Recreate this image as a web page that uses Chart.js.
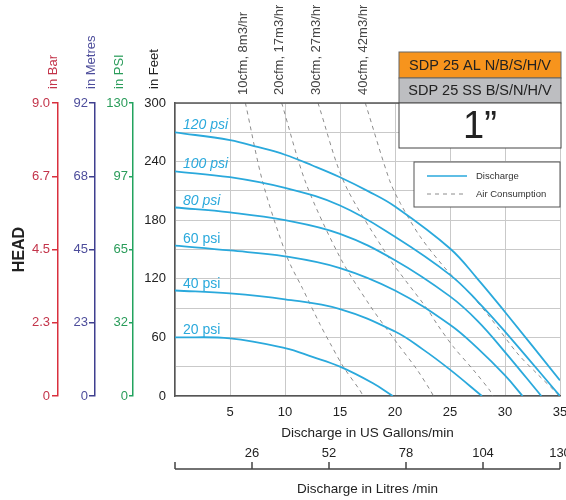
<!DOCTYPE html>
<html>
<head>
<meta charset="utf-8">
<script src="https://cdn.jsdelivr.net/npm/chart.js@4.4.0/dist/chart.umd.min.js"></script>
<style>
  html, body { margin: 0; padding: 0; background: #fff; }
</style>
</head>
<body>
<canvas id="pumpChart" width="566" height="500"></canvas>
<script>
// discharge curves, flow in US gal/min against head in feet
const pressures = ['120 psi', '100 psi', '80 psi', '60 psi', '40 psi', '20 psi'];

const flow120 = [0, 5, 7.5, 10, 12.5, 15, 17.5, 20, 25, 27.5, 30, 35];
const head120 = [270, 262, 255, 247, 236, 224, 210, 194, 151, 120, 86, 16];
const flow100 = [0, 5, 10, 15, 20, 25, 27.5, 30, 35];
const head100 = [230, 224, 213, 195, 163, 124, 97, 66, 0];
const flow80 = [0, 5, 10, 15, 20, 25, 27.5, 30, 33.3];
const head80 = [193, 188, 180, 166, 139, 102, 77, 45, 0];
const flow60 = [0, 5, 10, 15, 20, 25, 27.5, 30, 31.6];
const head60 = [154, 149, 143, 131, 108, 73, 49, 21, 0];
const flow40 = [0, 5, 10, 15, 20, 22.5, 25, 27.9];
const head40 = [108, 105, 99, 89, 66, 48, 27, 0];
const flow20 = [0, 5, 10, 12.5, 15, 18, 19.8];
const head20 = [60, 59, 49, 40, 30, 13, 0];

// air consumption lines
const airLabels = ['10cfm, 8m3/hr', '20cfm, 17m3/hr', '30cfm, 27m3/hr', '40cfm, 42m3/hr'];
const air10Flow = [6.4, 8.0, 10.2, 11.6, 13.2, 14.1, 15.3, 16.8, 17.1];
const air10Head = [300, 218, 142, 110, 73, 54, 30, 6, 0];
const air20Flow = [9.7, 11.9, 15, 17.7, 20.2, 22, 23.2, 23.5];
const air20Head = [300, 218, 142, 93, 54, 27, 6, 0];
const air30Flow = [13.0, 15.4, 19.4, 20.5, 23.0, 23.8, 25.3, 27.1, 28.6, 28.9];
const air30Head = [300, 218, 142, 125, 88, 74, 50.5, 27, 6, 0];
const air40Flow = [17.3, 19.5, 20.5, 22.3, 24.7, 26.8, 28.6, 31.1, 32.9, 34.7, 34.9];
const air40Head = [300, 221, 197, 163, 129, 105, 81, 44, 23, 3, 0];

// scale tick labels
const barTicks = ['0', '2.3', '4.5', '6.7', '9.0'];
const metreTicks = ['0', '23', '45', '68', '92'];
const psiTicks = ['0', '32', '65', '97', '130'];
const litreTicks = [26, 52, 78, 104, 130];

const flows = [flow120, flow100, flow80, flow60, flow40, flow20];
const heads = [head120, head100, head80, head60, head40, head20];
const airFlows = [air10Flow, air20Flow, air30Flow, air40Flow];
const airHeads = [air10Head, air20Head, air30Head, air40Head];

const BLUE = '#2aa9dc';
const RED = '#d9303e', REDTXT = '#c3344a';
const PURPLE = '#3f3f8f', PURPLETXT = '#4d4d9b';
const GREEN = '#22a35e', GREENTXT = '#2a9c5a';
const FONT = "'Liberation Sans', Arial, sans-serif";

Chart.defaults.font.family = FONT;
Chart.defaults.font.size = 13;
Chart.defaults.color = '#222';

const pts = (f, h) => f.map((x, i) => ({ x: x, y: h[i] }));

const datasets = [];
flows.forEach((f, i) => {
  datasets.push({
    label: pressures[i],
    data: pts(f, heads[i]),
    showLine: true,
    borderColor: BLUE,
    borderWidth: 1.8,
    pointRadius: 0,
    tension: 0.4
  });
});
airFlows.forEach((f, i) => {
  datasets.push({
    label: airLabels[i],
    data: pts(f, airHeads[i]),
    showLine: true,
    borderColor: '#8c8c8c',
    borderWidth: 1,
    borderDash: [4, 4],
    pointRadius: 0,
    tension: 0.3
  });
});

function quarterTicks(max) {
  return (s) => { s.ticks = [0, 1, 2, 3, 4].map(i => ({ value: max * i / 4 })); };
}

function sideAxis(max, labels, weight, width, line, txt, pad, tick) {
  return {
    position: 'left',
    weight: weight,
    min: 0,
    max: max,
    afterBuildTicks: quarterTicks(max),
    afterFit: (s) => { s.width = width; },
    ticks: { color: txt, padding: pad, callback: (v, i) => labels[i] },
    grid: { display: true, drawOnChartArea: false, drawTicks: true, tickLength: tick, color: line, lineWidth: 1.5 },
    border: { display: true, color: line, width: 1.5 }
  };
}

const decor = {
  id: 'decor',
  afterDraw(chart) {
    const ctx = chart.ctx;
    const ca = chart.chartArea;
    const xs = chart.scales.x, ys = chart.scales.y;
    ctx.save();

    // top edge of the plot frame
    ctx.strokeStyle = '#555';
    ctx.lineWidth = 1.5;
    ctx.beginPath();
    ctx.moveTo(ca.left, ca.top);
    ctx.lineTo(ca.right, ca.top);
    ctx.stroke();

    // pressure labels at the start of each curve
    ctx.fillStyle = BLUE;
    ctx.textAlign = 'left';
    ctx.textBaseline = 'alphabetic';
    pressures.forEach((p, i) => {
      ctx.font = (i < 3 ? 'italic ' : '') + '14px ' + FONT;
      ctx.fillText(p, xs.getPixelForValue(0) + 8, ys.getPixelForValue(heads[i][0]) - 3);
    });

    // air consumption labels above the plot
    ctx.fillStyle = '#444';
    ctx.font = '13px ' + FONT;
    ctx.textBaseline = 'middle';
    airLabels.forEach((t, i) => {
      ctx.save();
      ctx.translate(xs.getPixelForValue(airFlows[i][0]) - 2, ca.top - 8);
      ctx.rotate(-Math.PI / 2);
      ctx.fillText(t, 0, 0);
      ctx.restore();
    });

    // head axis titles
    [['yBar', 'in Bar', REDTXT, -4.5], ['yMet', 'in Metres', PURPLETXT, -4],
     ['yPsi', 'in PSI', GREENTXT, -14], ['y', 'in Feet', '#222', -21]].forEach(a => {
      const s = chart.scales[a[0]];
      ctx.save();
      ctx.fillStyle = a[2];
      ctx.translate(s.right + a[3], ca.top - 14);
      ctx.rotate(-Math.PI / 2);
      ctx.fillText(a[1], 0, 0);
      ctx.restore();
    });

    // model boxes
    const bx = ca.right - 161, bw = 162;
    ctx.lineWidth = 1;
    ctx.strokeStyle = '#666';
    ctx.fillStyle = '#f7941d';
    ctx.fillRect(bx, ca.top - 51, bw, 26);
    ctx.strokeRect(bx, ca.top - 51, bw, 26);
    ctx.fillStyle = '#bdbec1';
    ctx.fillRect(bx, ca.top - 25, bw, 25);
    ctx.strokeRect(bx, ca.top - 25, bw, 25);
    ctx.fillStyle = '#fff';
    ctx.fillRect(bx, ca.top, bw, 45);
    ctx.strokeStyle = '#444';
    ctx.strokeRect(bx, ca.top, bw, 45);
    ctx.fillStyle = '#222';
    ctx.textAlign = 'center';
    ctx.font = '14.5px ' + FONT;
    ctx.fillText('SDP 25 AL N/B/S/H/V', bx + bw / 2, ca.top - 37);
    ctx.fillText('SDP 25 SS B/S/N/H/V', bx + bw / 2, ca.top - 12);
    ctx.font = '38px ' + FONT;
    ctx.fillText('1\u201D', bx + bw / 2, ca.top + 25);

    // legend
    const lx = ca.right - 146, ly = ca.top + 59;
    ctx.fillStyle = '#fff';
    ctx.fillRect(lx, ly, 146, 45);
    ctx.strokeStyle = '#555';
    ctx.strokeRect(lx, ly, 146, 45);
    ctx.lineWidth = 1.5;
    ctx.strokeStyle = BLUE;
    ctx.beginPath();
    ctx.moveTo(lx + 13, ly + 14);
    ctx.lineTo(lx + 53, ly + 14);
    ctx.stroke();
    ctx.lineWidth = 1;
    ctx.strokeStyle = '#8c8c8c';
    ctx.setLineDash([4, 4]);
    ctx.beginPath();
    ctx.moveTo(lx + 13, ly + 32);
    ctx.lineTo(lx + 53, ly + 32);
    ctx.stroke();
    ctx.setLineDash([]);
    ctx.fillStyle = '#333';
    ctx.textAlign = 'left';
    ctx.font = '9.5px ' + FONT;
    ctx.fillText('Discharge', lx + 62, ly + 14);
    ctx.fillText('Air Consumption', lx + 62, ly + 32);

    // litres bracket axis
    const x2 = chart.scales.x2;
    const yl = x2.top + 28;
    ctx.strokeStyle = '#444';
    ctx.lineWidth = 1.5;
    ctx.beginPath();
    ctx.moveTo(x2.getPixelForValue(0), yl);
    ctx.lineTo(x2.getPixelForValue(130), yl);
    [0].concat(litreTicks).forEach(v => {
      const px = x2.getPixelForValue(v);
      ctx.moveTo(px, yl);
      ctx.lineTo(px, yl - 7);
    });
    ctx.stroke();
    ctx.restore();
  }
};

new Chart(document.getElementById('pumpChart'), {
  type: 'scatter',
  data: { datasets: datasets },
  options: {
    responsive: false,
    animation: false,
    layout: { padding: { top: 103, right: 6, left: 0, bottom: 0 } },
    plugins: { legend: { display: false }, tooltip: { enabled: false } },
    scales: {
      x: {
        type: 'linear',
        position: 'bottom',
        min: 0,
        max: 35,
        afterFit: (s) => { s.height = 45; s.paddingLeft = 0; s.paddingRight = 0; },
        ticks: { stepSize: 5, padding: 9, color: '#222', callback: (v) => v === 0 ? '' : v },
        grid: { color: '#c9c9c9', lineWidth: 1, drawTicks: false },
        border: { color: '#555', width: 1.5 },
        title: { display: true, text: 'Discharge in US Gallons/min', color: '#222', font: { size: 13.5 }, padding: { top: 0, bottom: 0 } }
      },
      x2: {
        type: 'linear',
        position: 'bottom',
        min: 0,
        max: 130,
        afterBuildTicks: (s) => { s.ticks = litreTicks.map(v => ({ value: v })); },
        afterFit: (s) => { s.height = 59; s.paddingLeft = 0; s.paddingRight = 0; },
        ticks: { padding: 5, color: '#222' },
        grid: { display: false, drawTicks: false },
        border: { display: false },
        title: { display: true, text: 'Discharge in Litres /min', color: '#222', font: { size: 13.5 }, padding: { top: 0, bottom: 3 } }
      },
      y: {
        position: 'left',
        weight: 0,
        min: 0,
        max: 300,
        afterFit: (s) => { s.width = 42; },
        ticks: { stepSize: 30, padding: 9, color: '#222', callback: (v) => v % 60 === 0 ? v : '' },
        grid: { color: '#c9c9c9', lineWidth: 1, drawTicks: false },
        border: { color: '#555', width: 1.5 }
      },
      yPsi: sideAxis(130, psiTicks, 1, 38, GREEN, GREENTXT, 1, 4),
      yMet: sideAxis(92, metreTicks, 2, 37, PURPLE, PURPLETXT, 1, 6),
      yBar: Object.assign(sideAxis(9, barTicks, 3, 58, RED, REDTXT, 2, 6), {
        title: { display: true, text: 'HEAD', color: '#222', font: { size: 16, weight: 'bold' }, padding: { top: 10, bottom: 0 } }
      })
    }
  },
  plugins: [decor]
});
</script>
</body>
</html>
